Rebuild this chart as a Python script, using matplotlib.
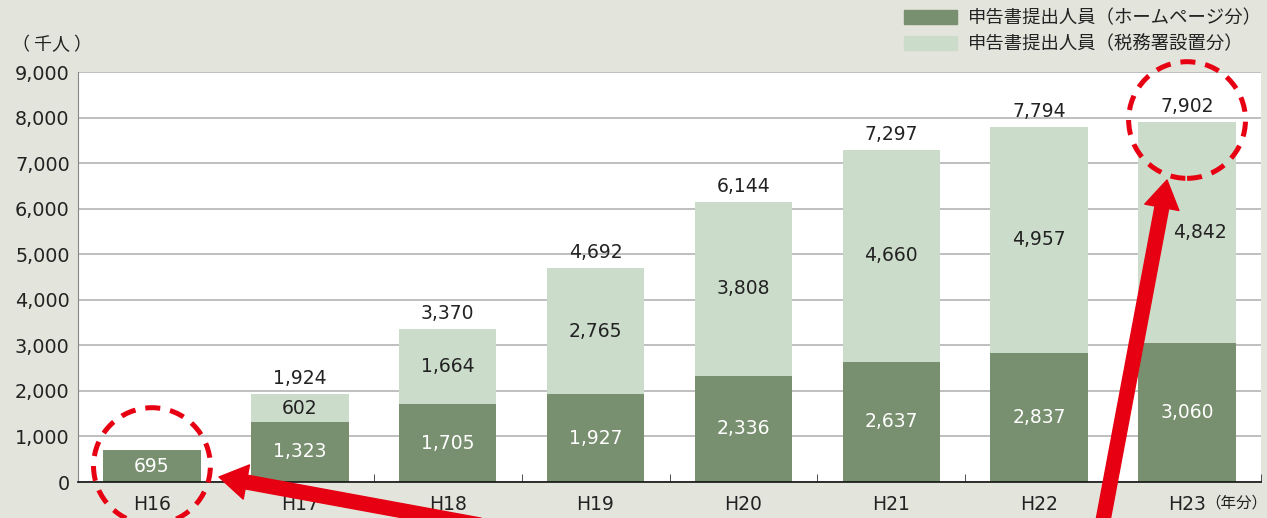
import matplotlib
matplotlib.use('Agg')
import matplotlib.pyplot as plt
from matplotlib.patches import Patch, Ellipse
import numpy as np

plt.rcParams['font.family'] = ['DejaVu Sans', 'Noto Sans CJK JP']
jp = ['Noto Sans CJK JP', 'DejaVu Sans']

years = ['H16', 'H17', 'H18', 'H19', 'H20', 'H21', 'H22', 'H23']
homepage = [695, 1323, 1705, 1927, 2336, 2637, 2837, 3060]
office = [0, 602, 1664, 2765, 3808, 4660, 4957, 4842]
totals = [695, 1924, 3370, 4692, 6144, 7297, 7794, 7902]
legend_labels = ['申告書提出人員（ホームページ分）', '申告書提出人員（税務署設置分）']

bg = '#e3e4dc'
dark = '#78906f'
light = '#ccdccb'
red = '#e60012'
txt = '#222222'

fig = plt.figure(figsize=(12.67, 5.18), dpi=100, facecolor=bg)
ax = fig.add_axes([78 / 1267, 1 - 482 / 518, (1261 - 78) / 1267, (482 - 72) / 518])
ax.set_facecolor('white')

x = np.arange(len(years))
w = 0.66
ax.bar(x, homepage, w, color=dark, zorder=2)
ax.bar(x, office, w, bottom=homepage, color=light, zorder=2)

ax.set_xlim(-0.5, len(years) - 0.5)
ax.set_ylim(0, 9000)
ax.set_yticks(np.arange(0, 9001, 1000))
ax.set_yticklabels([f'{v:,}' for v in range(0, 9001, 1000)], fontsize=13.8, color=txt)
ax.yaxis.grid(True, color='#b4b4b4', lw=1.2)
ax.set_axisbelow(True)
ax.tick_params(axis='y', length=0, pad=6)
ax.set_xticks(x)
ax.set_xticklabels(years, fontsize=13.5, color=txt)
ax.tick_params(axis='x', length=0, pad=9)
ax.set_xticks(np.arange(0.5, len(years) - 0.5 + 0.01, 1), minor=True)
ax.tick_params(axis='x', which='minor', direction='in', length=6, color='#333333')

for s in ['top', 'right']:
    ax.spines[s].set_visible(False)
ax.spines['left'].set_color('#888888')
ax.spines['bottom'].set_color('#111111')
ax.spines['bottom'].set_linewidth(1.2)

# value labels
for i in range(len(years)):
    ax.text(x[i], homepage[i] / 2, f'{homepage[i]:,}', ha='center', va='center',
            fontsize=13.5, color='white', zorder=3)
    if office[i] > 0:
        dx = 0.09 if i == len(years) - 1 else 0
        ax.text(x[i] + dx, homepage[i] + office[i] / 2, f'{office[i]:,}', ha='center',
                va='center', fontsize=13.5, color=txt, zorder=3)
    if i > 0:
        ax.text(x[i], totals[i] + 130, f'{totals[i]:,}', ha='center', va='bottom',
                fontsize=13.5, color=txt, zorder=3)

# red dashed circles
for cx, cy in [(0, 351), (7, 7946)]:
    ax.add_patch(Ellipse((cx, cy), 0.79, 2560, fill=False, ec=red, lw=3.6,
                         ls=(0, (3, 2)), clip_on=False, zorder=5))

# red arrows
ap = dict(width=10, headwidth=25, headlength=20, color=red, shrink=0)
ax.annotate('', xy=(219, 41), xytext=(480, -7), xycoords='figure pixels',
            textcoords='figure pixels', arrowprops=ap, zorder=6, annotation_clip=False)
ax.annotate('', xy=(1167, 338), xytext=(1102, -8), xycoords='figure pixels',
            textcoords='figure pixels', arrowprops=ap, zorder=6, annotation_clip=False)

fig.text(12 / 1267, 1 - 45 / 518, '（ 千人 ）', fontsize=13, va='center', ha='left',
         color=txt, family=jp)
fig.text(1205 / 1267, 1 - 503 / 518, '（年分）', fontsize=11.2, va='center', ha='left',
         color=txt, family=jp)

handles = [Patch(color=dark), Patch(color=light)]
leg = fig.legend(handles, legend_labels, loc='upper right',
                 bbox_to_anchor=(1262 / 1267, 1 - 9 / 518), frameon=False, fontsize=13.2,
                 handlelength=2.9, handleheight=0.8, handletextpad=0.6, labelspacing=0.45,
                 borderaxespad=0, borderpad=0)
for t in leg.get_texts():
    t.set_family(jp)
    t.set_color(txt)

fig.savefig('out.png', dpi=100, facecolor=bg)
